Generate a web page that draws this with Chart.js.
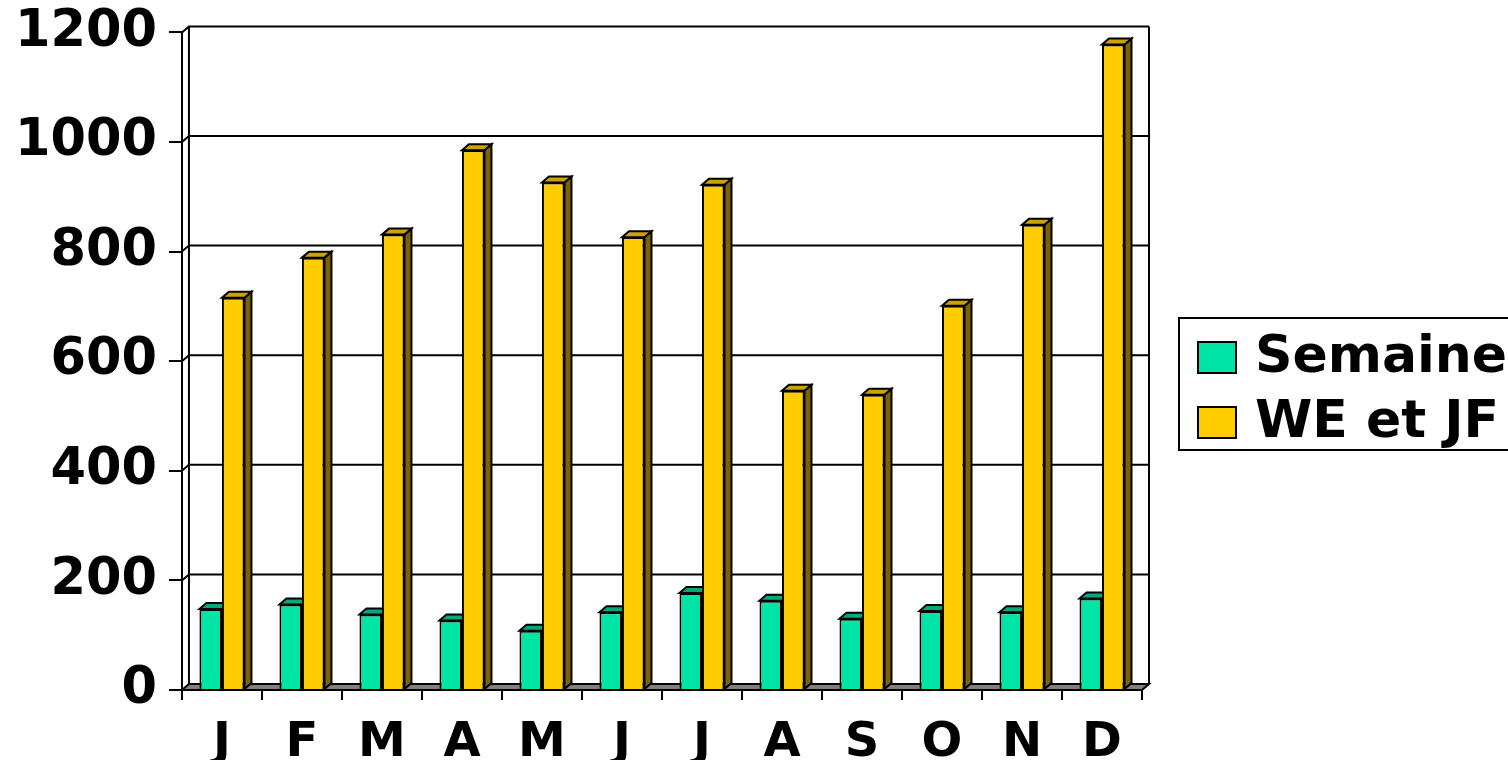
<!DOCTYPE html>
<html>
<head>
<meta charset="utf-8">
<script src="https://cdn.jsdelivr.net/npm/chart.js@4.4.1/dist/chart.umd.min.js"></script>
<style>
  html, body { margin: 0; padding: 0; background: #fff; overflow: hidden; }
  #wrap { width: 1508px; height: 760px; }
</style>
</head>
<body>
<div id="wrap"><canvas id="chart" width="1508" height="760"></canvas></div>
<script>
const months = ["J", "F", "M", "A", "M", "J", "J", "A", "S", "O", "N", "D"];
const semaine = [148, 156, 138, 127, 108, 142, 177, 163, 130, 144, 142, 167];
const weJf = [716, 789, 831, 985, 926, 826, 922, 546, 539, 701, 849, 1178];
const yTicks = [0, 200, 400, 600, 800, 1000, 1200];
const seriesNames = ["Semaine", "WE et JF"];

const FONT = "'DejaVu Sans', Verdana, sans-serif";
const DX = 7; // depth of the 3d effect
const DY = 6;

// face colours: front, top, side
const faces = [
  { front: "#00E4A6", top: "#00A87A", side: "#007A58" },
  { front: "#FFCC00", top: "#CCA300", side: "#7D6300" }
];

// back wall, gridlines, floor and the top/side faces of the bars
const threeD = {
  id: "threeD",
  beforeDatasetsDraw(chart) {
    const ctx = chart.ctx;
    const { left, right, top, bottom } = chart.chartArea;
    const y = chart.scales.y;
    ctx.save();
    ctx.strokeStyle = "#000";
    ctx.lineWidth = 2;
    ctx.lineJoin = "miter";

    // floor
    ctx.fillStyle = "#808080";
    ctx.beginPath();
    ctx.moveTo(left, bottom);
    ctx.lineTo(right, bottom);
    ctx.lineTo(right + DX, bottom - DY);
    ctx.lineTo(left + DX, bottom - DY);
    ctx.closePath();
    ctx.fill();
    ctx.stroke();

    // walls + gridlines
    ctx.beginPath();
    ctx.moveTo(left + DX, bottom - DY);
    ctx.lineTo(left + DX, top - DY);
    ctx.moveTo(right + DX, bottom - DY);
    ctx.lineTo(right + DX, top - DY);
    yTicks.forEach(v => {
      if (v === 0) return;
      const py = y.getPixelForValue(v);
      ctx.moveTo(left, py);
      ctx.lineTo(left + DX, py - DY);
      ctx.lineTo(right + DX, py - DY);
    });
    ctx.stroke();

    // bar sides and tops
    chart.data.datasets.forEach((ds, i) => {
      const meta = chart.getDatasetMeta(i);
      const f = faces[i];
      meta.data.forEach(bar => {
        const l = bar.x - bar.width / 2;
        const r = bar.x + bar.width / 2;
        const t = bar.y;
        const b = bar.base;

        ctx.fillStyle = f.side;
        ctx.beginPath();
        ctx.moveTo(r, t);
        ctx.lineTo(r + DX, t - DY);
        ctx.lineTo(r + DX, b - DY);
        ctx.lineTo(r, b);
        ctx.closePath();
        ctx.fill();
        ctx.stroke();

        ctx.fillStyle = f.top;
        ctx.beginPath();
        ctx.moveTo(l, t);
        ctx.lineTo(l + DX, t - DY);
        ctx.lineTo(r + DX, t - DY);
        ctx.lineTo(r, t);
        ctx.closePath();
        ctx.fill();
        ctx.stroke();
      });
    });
    ctx.restore();
  }
};

// boxed legend, cut by the right edge like in the original
const legendBox = {
  id: "legendBox",
  afterDraw(chart) {
    const ctx = chart.ctx;
    const x0 = chart.chartArea.right + 37;
    const y0 = 318;
    ctx.save();
    ctx.strokeStyle = "#000";
    ctx.lineWidth = 2;
    ctx.fillStyle = "#fff";
    ctx.fillRect(x0, y0, 400, 132);
    ctx.strokeRect(x0, y0, 400, 132);
    ctx.font = "bold 52px " + FONT;
    ctx.textBaseline = "middle";
    chart.data.datasets.forEach((ds, i) => {
      const cy = y0 + 39 + i * 65;
      ctx.fillStyle = ds.backgroundColor;
      ctx.fillRect(x0 + 19, cy - 15, 38, 31);
      ctx.strokeRect(x0 + 19, cy - 15, 38, 31);
      ctx.fillStyle = "#000";
      ctx.fillText(ds.label, x0 + 76, cy + 1);
    });
    ctx.restore();
  }
};

new Chart(document.getElementById("chart"), {
  type: "bar",
  data: {
    labels: months,
    datasets: [
      {
        label: seriesNames[0],
        data: semaine,
        backgroundColor: faces[0].front,
        borderColor: "#000",
        borderWidth: 2
      },
      {
        label: seriesNames[1],
        data: weJf,
        backgroundColor: faces[1].front,
        borderColor: "#000",
        borderWidth: 2
      }
    ]
  },
  options: {
    responsive: false,
    animation: false,
    events: [],
    layout: { padding: { top: -4, left: 3, right: 366, bottom: -28 } },
    datasets: {
      bar: { categoryPercentage: 0.5625, barPercentage: 1.0 }
    },
    plugins: {
      legend: { display: false },
      tooltip: { enabled: false }
    },
    scales: {
      x: {
        grid: {
          drawOnChartArea: false,
          color: "#000",
          lineWidth: 2,
          tickLength: 10,
          offset: true
        },
        border: { display: true, color: "#000", width: 2 },
        ticks: {
          color: "#000",
          font: { family: FONT, size: 48, weight: "bold", lineHeight: 1.833 },
          padding: 0
        }
      },
      y: {
        min: 0,
        max: 1200,
        afterBuildTicks: axis => {
          axis.ticks = yTicks.map(v => ({ value: v }));
        },
        grid: {
          drawOnChartArea: false,
          color: "#000",
          lineWidth: 2,
          tickLength: 13
        },
        border: { display: true, color: "#000", width: 2 },
        ticks: {
          color: "#000",
          font: { family: FONT, size: 51, weight: "bold", lineHeight: 0.8 },
          padding: 12,
          callback: v => String(v)
        }
      }
    }
  },
  plugins: [threeD, legendBox]
});
</script>
</body>
</html>
